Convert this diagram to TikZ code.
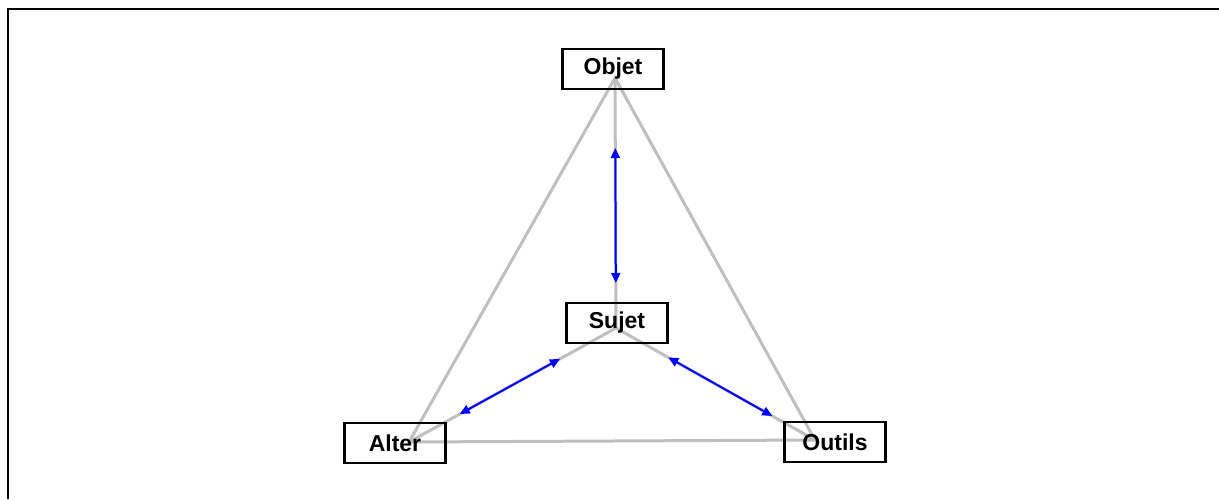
\documentclass[tikz,border=0pt]{standalone}
\usepackage{fontspec}
\setmainfont{Liberation Sans}
\usepackage{tikz}
\usetikzlibrary{arrows.meta,backgrounds}

\begin{document}
\begin{tikzpicture}[
  x=1pt, y=-1pt,
  box/.style={rectangle, draw, line width=2.4pt, minimum width=101pt,
    minimum height=40pt, inner sep=0pt, font=\fontsize{23}{27}\selectfont\bfseries},
  link/.style={draw=black!25, line width=3pt},
  arrow/.style={{Triangle[length=10pt,width=9pt]}-{Triangle[length=10pt,width=9pt]},
    blue, line width=2pt}
]
  \useasboundingbox (0,0) rectangle (1219,499);
  \draw[line width=2.6pt] (8,499) -- (8,9) -- (1219,9);

  \node[box] (objet) at (613,69) {Objet};
  \node[box] (sujet) at (617,323) {Sujet};
  \node[box] (alter) at (395,443) {Alter};
  \node[box] (outils) at (835,442) {Outils};

  % meeting points of the links inside the boxes
  \coordinate (objet-c) at (615,78);
  \coordinate (sujet-c) at (616,328);
  \coordinate (alter-c) at (409,442);
  \coordinate (outils-c) at (815,440);

  \begin{scope}[on background layer]
    \draw[link] (objet-c) -- (alter-c) -- (outils-c) -- cycle;
    \draw[link] (sujet-c) -- (objet-c);
    \draw[link] (sujet-c) -- (alter-c);
    \draw[link] (sujet-c) -- (outils-c);
  \end{scope}

  \draw[arrow, shorten <=45pt, shorten >=70pt] (sujet-c) -- (objet-c);
  \draw[arrow, shorten <=64pt, shorten >=58pt] (sujet-c) -- (alter-c);
  \draw[arrow, shorten <=60pt, shorten >=49pt] (sujet-c) -- (outils-c);
\end{tikzpicture}
\end{document}
